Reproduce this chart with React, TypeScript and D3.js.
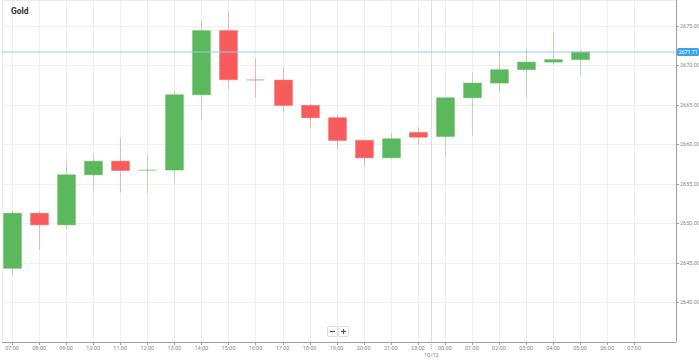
import React from "react";
import * as d3 from "d3";

// hourly slots (22:00 has no session, so it is skipped)
const hours = [
  "07:00", "08:00", "09:00", "10:00", "11:00", "12:00", "13:00", "14:00",
  "15:00", "16:00", "17:00", "18:00", "19:00", "20:00", "21:00", "23:00",
  "00:00", "01:00", "02:00", "03:00", "04:00", "05:00", "06:00", "07:00",
];

const opens = [
  2644.29, 2651.27, 2649.8, 2656.14, 2657.87, 2656.69, 2656.75, 2666.29,
  2674.42, 2668.2, 2668.15, 2664.94, 2663.38, 2660.5, 2658.3, 2661.51,
  2661.0, 2665.91, 2667.77, 2669.47, 2670.43, 2670.74,
];
const highs = [
  2651.61, 2651.52, 2657.87, 2658.81, 2660.84, 2658.72, 2666.68, 2675.63,
  2676.83, 2670.94, 2669.8, 2665.15, 2663.67, 2660.55, 2661.42, 2662.18,
  2665.95, 2669.09, 2671.83, 2672.08, 2674.24, 2672.0,
];
const lows = [
  2643.49, 2646.62, 2649.29, 2653.93, 2653.9, 2653.81, 2655.2, 2663.03,
  2666.97, 2665.99, 2664.09, 2662.06, 2659.35, 2657.23, 2658.2, 2659.99,
  2658.38, 2661.04, 2666.59, 2665.91, 2670.1, 2668.83,
];
const closes = [
  2651.27, 2649.8, 2656.14, 2657.87, 2656.69, 2656.75, 2666.29, 2674.42,
  2668.2, 2668.15, 2664.94, 2663.38, 2660.5, 2658.3, 2660.71, 2660.91,
  2665.91, 2667.77, 2669.47, 2670.43, 2670.74, 2671.71,
];

const priceTicks = [2640, 2645, 2650, 2655, 2660, 2665, 2670, 2675];
const lastPrice = 2671.71;
const dayBreak = { after: 15, label: "10/12" };

const W = 699;
const H = 360;
const plot = { left: 2, top: 0, right: 676, bottom: 342 };

const GREEN = "#5cb85c";
const RED = "#f75b5b";

export default function App() {
  const x = d3.scaleLinear().domain([0, hours.length - 1]).range([12, 634.2]);
  const y = d3.scaleLinear().domain([2634.95, 2678.3]).range([plot.bottom, plot.top]);
  const step = x(1) - x(0);
  const bodyW = step * 0.66;

  const candles = opens.map((o, i) => ({
    i,
    o,
    h: highs[i],
    l: lows[i],
    c: closes[i],
  }));

  const font = "Roboto, 'Noto Sans', sans-serif";
  const dayX = Math.round(x(dayBreak.after + 0.5)) + 0.5;

  return (
    <div>
      <style>{`body{margin:0}`}</style>
      <svg width={W} height={H} style={{ display: "block", background: "#fff" }}>
        {/* grid */}
        <g stroke="#f0f0f0" strokeWidth={1}>
          {priceTicks.map((t) => (
            <line key={t} x1={plot.left} x2={plot.right} y1={Math.round(y(t)) + 0.5} y2={Math.round(y(t)) + 0.5} />
          ))}
          {hours.map((h, i) => (
            <line key={i} x1={Math.round(x(i)) + 0.5} x2={Math.round(x(i)) + 0.5} y1={plot.top} y2={plot.bottom} />
          ))}
        </g>
        <rect x={plot.left + 0.5} y={plot.top + 0.5} width={plot.right - plot.left} height={plot.bottom - plot.top} fill="none" stroke="#ebebeb" />

        {/* day boundary */}
        <line x1={dayX} x2={dayX} y1={plot.top} y2={plot.bottom} stroke="#dedede" />
        <line x1={dayX} x2={dayX} y1={plot.bottom} y2={plot.bottom + 8} stroke="#bbb" strokeDasharray="1,1" />
        <text x={x(dayBreak.after + 0.5)} y={357} textAnchor="middle" fontFamily={font} fontSize={5.5} fill="#888">
          {dayBreak.label}
        </text>

        {/* candles */}
        {candles.map((d) => {
          const up = d.c >= d.o;
          const col = up ? GREEN : RED;
          const cx = Math.round(x(d.i)) + 0.5;
          const top = y(Math.max(d.o, d.c));
          const bot = y(Math.min(d.o, d.c));
          const flat = bot - top < 1;
          return (
            <g key={d.i}>
              <line x1={cx} x2={cx} y1={y(d.h)} y2={y(d.l)} stroke={col} strokeOpacity={0.4} />
              {flat ? (
                <line
                  x1={cx - bodyW / 2}
                  x2={cx + bodyW / 2}
                  y1={(top + bot) / 2}
                  y2={(top + bot) / 2}
                  stroke={col}
                  strokeOpacity={0.45}
                  strokeWidth={1.5}
                />
              ) : (
                <rect
                  x={cx - bodyW / 2}
                  y={top}
                  width={bodyW}
                  height={bot - top}
                  fill={col}
                  stroke={col}
                  strokeOpacity={0.45}
                  strokeWidth={1}
                />
              )}
            </g>
          );
        })}

        {/* last price line */}
        <line x1={plot.left} x2={plot.right} y1={y(lastPrice)} y2={y(lastPrice)} stroke="#8ecff2" strokeWidth={1} />

        {/* right axis */}
        <line x1={plot.right + 0.5} x2={plot.right + 0.5} y1={plot.top} y2={plot.bottom} stroke="#a0a0a0" />
        {priceTicks.map((t) => (
          <g key={t}>
            <line x1={plot.right} x2={plot.right + 3} y1={Math.round(y(t)) + 0.5} y2={Math.round(y(t)) + 0.5} stroke="#a0a0a0" />
            <text x={plot.right + 4} y={y(t) + 2} fontFamily={font} fontSize={5.5} fill="#888">
              {t.toFixed(2)}
            </text>
          </g>
        ))}
        <rect x={plot.right + 1} y={y(lastPrice) - 4} width={22} height={8} rx={1.5} fill="#3aa3ee" />
        <text x={plot.right + 2.5} y={y(lastPrice) + 2} fontFamily={font} fontSize={5.3} fill="#fff">
          {lastPrice.toFixed(2)}
        </text>

        {/* bottom axis */}
        <line x1={plot.left} x2={plot.right} y1={plot.bottom + 0.5} y2={plot.bottom + 0.5} stroke="#a0a0a0" />
        {hours.map((h, i) => (
          <g key={i}>
            <line x1={Math.round(x(i)) + 0.5} x2={Math.round(x(i)) + 0.5} y1={plot.bottom} y2={plot.bottom + 3} stroke="#a0a0a0" />
            <text x={x(i)} y={350} textAnchor="middle" fontFamily={font} fontSize={5.5} fill="#888">
              {h}
            </text>
          </g>
        ))}

        {/* zoom buttons */}
        <g>
          <rect x={327.5} y={326.5} width={10} height={10} fill="#fff" stroke="#ddd" rx={1} />
          <rect x={338.5} y={326.5} width={10} height={10} fill="#fff" stroke="#ddd" rx={1} />
          <line x1={330} x2={335} y1={331.5} y2={331.5} stroke="#555" strokeWidth={1.2} />
          <line x1={341} x2={346} y1={331.5} y2={331.5} stroke="#555" strokeWidth={1.2} />
          <line x1={343.5} x2={343.5} y1={329} y2={334} stroke="#555" strokeWidth={1.2} />
        </g>

        {/* title */}
        <text x={11} y={14} fontFamily={font} fontSize={8.5} fontWeight="bold" fill="#333">
          Gold
        </text>
      </svg>
    </div>
  );
}
